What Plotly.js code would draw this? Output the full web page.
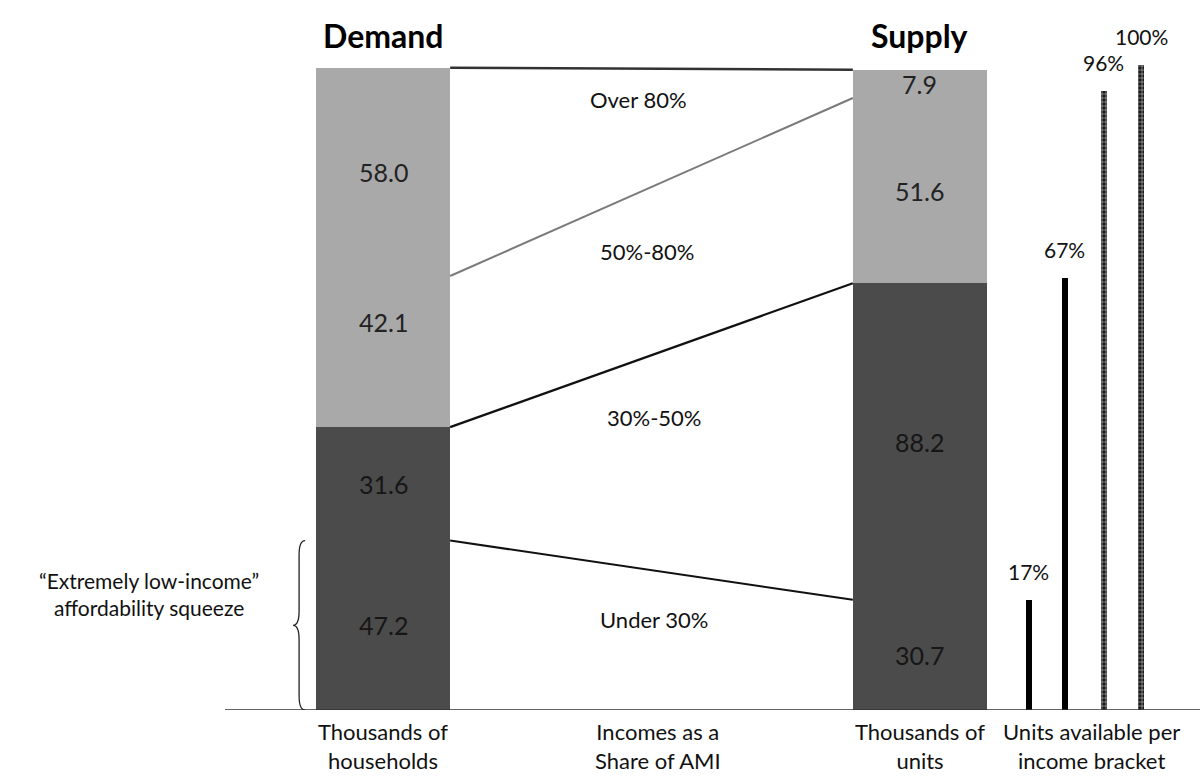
<!DOCTYPE html>
<html>
<head>
<meta charset="utf-8">
<script src="https://cdn.plot.ly/plotly-3.0.1.min.js"></script>
<style>html,body{margin:0;padding:0;background:#fff;}#chart{width:1200px;height:783px;}</style>
</head>
<body>
<div id="chart"></div>
<script>
// ---- data ----
const brackets = ["Under 30%", "30%-50%", "50%-80%", "Over 80%"];
const demandValues = [47.2, 31.6, 42.1, 58.0];
const supplyValues = [30.7, 88.2, 51.6, 7.9];
const availLabels = ["17%", "67%", "96%", "100%"];
const availValues = [17, 67, 96, 100];
const columnTitles = ["Demand", "Supply"];
const bottomLabels = ["Thousands of<br>households", "Incomes as a<br>Share of AMI", "Thousands of<br>units", "Units available per<br>income bracket"];
const squeezeLabel = "\u201cExtremely low-income\u201d<br>affordability squeeze";

// ---- layout constants ----
const FONT = "Lato, 'Open Sans', sans-serif";
const xDemand = 0, xSupply = 4;
const xAvail = [4.81, 5.08, 5.37, 5.65];
const segColors = ["#4b4b4b", "#4b4b4b", "#a9a9a9", "#a9a9a9"];
const linkColors = ["#111", "#111", "#7a7a7a", "#333"];
const linkWidths = [2, 2.2, 2, 2.5];
const labelShiftDemand = [0, 0, 30, 0];
const bracketLabelX = [2.02, 2.02, 1.97, 1.90];
const bracketLabelY = [25.1, 81.4, 127.6, 170];
const bottomLabelX = [0, 2.05, 4, 5.28];

function cumsum(a){ let s=0; return a.map(v => (s += v)); }
const cumD = cumsum(demandValues), cumS = cumsum(supplyValues);

const traces = [];
brackets.forEach((b, i) => {
  traces.push({
    type: "bar", x: [xDemand, xSupply], y: [demandValues[i], supplyValues[i]],
    width: 1.0, marker: { color: segColors[i], line: { width: 0 } },
    name: b, hoverinfo: "skip", showlegend: false
  });
});
// connecting lines between the bracket boundaries
brackets.forEach((b, i) => {
  traces.push({
    type: "scatter", mode: "lines", x: [xDemand + 0.5, xSupply - 0.5], y: [cumD[i], cumS[i]],
    line: { color: linkColors[i], width: linkWidths[i] }, hoverinfo: "skip", showlegend: false
  });
});
// availability bars
traces.push({
  type: "bar", x: xAvail, y: availValues, yaxis: "y2", width: 0.045,
  marker: {
    color: ["#000", "#000", "#1a1a1a", "#1a1a1a"],
    line: { width: 0 },
    pattern: { shape: ["", "", "+", "+"], fillmode: "overlay", fgcolor: "#ffffff", fgopacity: 0.8, size: 4, solidity: 0.25 }
  },
  hoverinfo: "skip", showlegend: false
});

const annotations = [];
// values inside bars
demandValues.forEach((v, i) => {
  annotations.push({ x: xDemand, y: cumD[i] - v / 2, xref: "x", yref: "y", text: v.toFixed(1), showarrow: false,
    yshift: labelShiftDemand[i], font: { family: FONT, size: 25, color: i < 2 ? "#161616" : "#222" } });
});
supplyValues.forEach((v, i) => {
  annotations.push({ x: xSupply, y: cumS[i] - v / 2, xref: "x", yref: "y", text: v.toFixed(1), showarrow: false,
    font: { family: FONT, size: 25, color: i < 2 ? "#161616" : "#222" } });
});
// bracket labels
brackets.forEach((b, i) => {
  annotations.push({ x: bracketLabelX[i], y: bracketLabelY[i], xref: "x", yref: "y", text: b, showarrow: false,
    font: { family: FONT, size: 22, color: "#111" } });
});
// availability labels
availLabels.forEach((t, i) => {
  annotations.push({ x: xAvail[i], y: availValues[i], xref: "x", yref: "y2", text: t, showarrow: false,
    yanchor: "bottom", yshift: 14, font: { family: FONT, size: 21, color: "#111" } });
});
// column titles
[xDemand, xSupply].forEach((x, i) => {
  annotations.push({ x: x, y: 188, xref: "x", yref: "y", text: "<b>" + columnTitles[i] + "</b>", showarrow: false,
    font: { family: FONT, size: 32, color: "#000" } });
});
// bottom labels
bottomLabelX.forEach((x, i) => {
  annotations.push({ x: x, y: -0.05, xref: "x", yref: "paper", text: bottomLabels[i], showarrow: false,
    yanchor: "middle", font: { family: FONT, size: 22, color: "#111" } });
});
// squeeze label
annotations.push({ x: -1.74, y: 32.3, xref: "x", yref: "y", text: squeezeLabel, showarrow: false,
  font: { family: FONT, size: 21, color: "#111" } });

// brace spanning the lowest demand segment
const bTop = cumD[0], bBot = 0, bMid = (bTop + bBot) / 2;
const xr = -0.58, xm = -0.625, xl = -0.67, d = 4;
const bracePath = `M ${xr} ${bTop} Q ${xm} ${bTop} ${xm} ${bTop - d} L ${xm} ${bMid + d} Q ${xm} ${bMid} ${xl} ${bMid} ` +
  `Q ${xm} ${bMid} ${xm} ${bMid - d} L ${xm} ${bBot + d} Q ${xm} ${bBot} ${xr} ${bBot}`;

const layout = {
  width: 1200, height: 783,
  margin: { l: 0, r: 0, t: 0, b: 73 },
  paper_bgcolor: "#fff", plot_bgcolor: "#fff",
  barmode: "stack", bargap: 0,
  xaxis: { range: [-2.853, 6.086], visible: false, fixedrange: true },
  yaxis: { range: [0, 197.8], visible: false, fixedrange: true },
  yaxis2: { range: [0, 110.1], overlaying: "y", visible: false, fixedrange: true },
  shapes: [
    { type: "line", xref: "x", yref: "y", x0: -1.177, x1: 6.086, y0: 0, y1: 0, line: { color: "#333", width: 1.5 } },
    { type: "path", xref: "x", yref: "y", path: bracePath, line: { color: "#222", width: 1.3 } }
  ],
  annotations: annotations,
  showlegend: false
};

Plotly.newPlot("chart", traces, layout, { staticPlot: true, displayModeBar: false });
</script>
</body>
</html>
